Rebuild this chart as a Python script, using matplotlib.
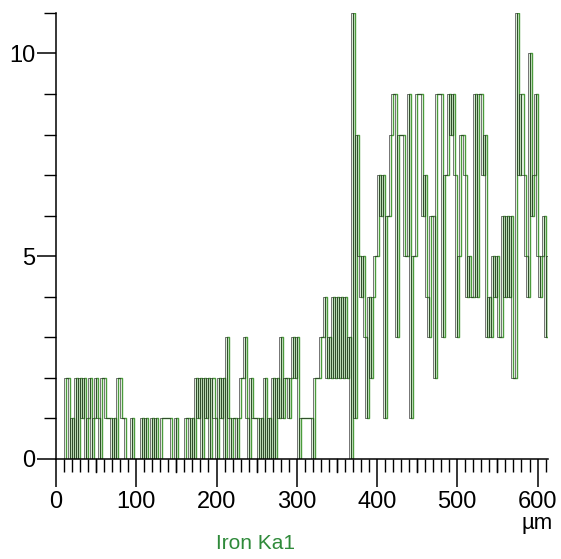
import numpy as np
import matplotlib
matplotlib.use("Agg")
import matplotlib.pyplot as plt
from matplotlib.ticker import MultipleLocator

# EDS line scan, Iron Ka1 counts along the scan (um)
x_start = 10.0
x_step = 2.5
counts = [
    0,
    2, 2, 0, 1, 0, 2, 0, 2, 1, 2, 0, 1, 2, 0, 1, 2, 1, 0, 2, 2,
    1, 1, 1, 0, 1, 0, 2, 2, 1, 1, 0, 0, 0, 1, 0, 0, 0, 0, 1, 0,
    1, 0, 0, 1, 0, 1, 0, 0, 1, 1, 1, 1, 1, 0, 0, 1, 0, 0, 0, 0,
    1, 1, 0, 1, 0, 2, 1, 2, 0, 2, 1, 2, 0, 2, 1, 0, 2, 1, 2, 0,
    3, 1, 0, 1, 1, 0, 1, 2, 2, 3, 1, 0, 2, 1, 1, 1, 0, 1, 0, 2,
    0, 1, 0, 2, 0, 2, 1, 3, 1, 2, 2, 1, 2, 3, 2, 3, 0, 1, 1, 1,
    1, 1, 1, 0, 2, 2, 2, 3, 3, 4, 2, 3, 2, 4, 2, 4, 2, 4, 2, 4,
    2, 3, 0, 11, 1, 8, 5, 4, 5, 3, 1, 4, 2, 4, 5, 5, 7, 6, 7, 1,
    6, 6, 8, 9, 9, 3, 8, 8, 8, 5, 5, 9, 1, 5, 5, 9, 9, 9, 6, 7,
    4, 3, 6, 6, 2, 9, 9, 9, 3, 7, 7, 9, 8, 9, 7, 3, 5, 8, 8, 7,
    4, 5, 4, 4, 9, 4, 9, 9, 7, 8, 3, 4, 3, 5, 4, 5, 3, 3, 6, 4,
    6, 4, 6, 2, 2, 11, 7, 9, 7, 5, 4, 10, 6, 7, 9, 5, 4, 5, 6, 3,
    5, 8,
]
xpos = x_start + x_step * np.arange(len(counts))

x_major = [0, 100, 200, 300, 400, 500, 600]
y_major = [0, 5, 10]

fig = plt.figure(figsize=(5.61, 5.59), dpi=100)
ax = fig.add_axes([0.0998, 0.1789, 0.877, 0.798])

ax.step(xpos, counts, where="post", color="#4b9b3c", lw=1.0)
ax.step(xpos, counts, where="pre", color="#222222", lw=0.55, alpha=0.8)

ax.set_xlim(0, 613)
ax.set_ylim(0, 11)

for s in ["top", "right"]:
    ax.spines[s].set_visible(False)
for s in ["left", "bottom"]:
    ax.spines[s].set_linewidth(1.1)

ax.set_xticks(x_major)
ax.set_yticks(y_major)
ax.xaxis.set_minor_locator(MultipleLocator(10))
ax.yaxis.set_minor_locator(MultipleLocator(1))
ax.tick_params(axis="x", which="major", length=20, width=1.1, direction="out",
               labelsize=17, pad=3)
ax.tick_params(axis="x", which="minor", length=9, width=1.0, direction="out")
ax.tick_params(axis="y", which="major", length=14, width=1.1, direction="out",
               labelsize=17, pad=1)
ax.tick_params(axis="y", which="minor", length=9, width=1.0, direction="out")
for lab in ax.get_xticklabels() + ax.get_yticklabels():
    lab.set_fontfamily("Liberation Sans")

# longer ticks at the 50s
for v in range(50, 613, 100):
    ax.plot([v, v], [0, -0.33], color="black", lw=1.0, clip_on=False)

ax.text(600, -1.33, "µm", ha="center", va="top", fontsize=16,
        family="Liberation Sans", transform=ax.transData)
fig.text(0.455, 0.027, "Iron Ka1", ha="center", va="center", fontsize=15,
         color="#2f8a3a", family="Liberation Sans")

fig.savefig("out.png", dpi=100)
